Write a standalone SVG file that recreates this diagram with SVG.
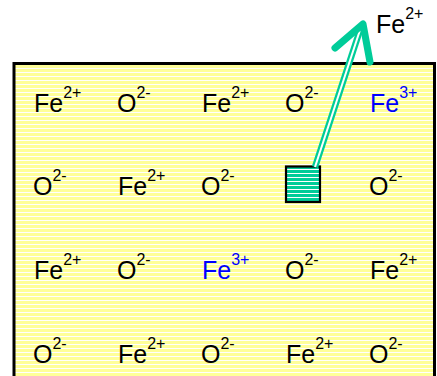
<svg xmlns="http://www.w3.org/2000/svg" width="437" height="376" viewBox="0 0 437 376">
<defs>
<pattern id="ystripe" patternUnits="userSpaceOnUse" x="0" y="1" width="8" height="4">
<rect width="8" height="4" fill="#FFFF99"/>
<rect y="3" width="8" height="1" fill="#FFFFFF"/>
</pattern>
<pattern id="gstripe" patternUnits="userSpaceOnUse" x="0" y="2" width="8" height="4">
<rect width="8" height="4" fill="#00CC99"/>
<rect y="3" width="8" height="1" fill="#FFFFFF"/>
</pattern>
<style>
text{font-family:"Liberation Sans",Arial,sans-serif;fill:#000}
.b{fill:#0000FF}
</style>
</defs>
<g id="crystal">
<rect x="14" y="63.5" width="420.5" height="330" fill="url(#ystripe)" stroke="#000" stroke-width="3"/>
</g>
<g id="vacancy">
<rect x="286" y="166.5" width="34" height="35.5" fill="url(#gstripe)" stroke="#000" stroke-width="2.2"/>
</g>
<g id="connectors">
<line x1="315" y1="167" x2="361" y2="27" stroke="#00CC99" stroke-width="6.5"/>
<line x1="315" y1="167" x2="361" y2="27" stroke="#FFFFFF" stroke-width="2"/>
<polyline points="335,48 363,24 370,62" fill="none" stroke="#00CC99" stroke-width="7" stroke-linecap="round" stroke-linejoin="round"/>
</g>
<g id="ion-top"><text x="376" y="33" font-size="25">Fe<tspan font-size="16" dy="-14">2+</tspan></text></g>
<g id="row1">
<text x="34" y="112" font-size="25">Fe<tspan font-size="16" dy="-14">2+</tspan></text>
<text x="117" y="112" font-size="25">O<tspan font-size="16" dy="-14">2-</tspan></text>
<text x="202" y="112" font-size="25">Fe<tspan font-size="16" dy="-14">2+</tspan></text>
<text x="285" y="112" font-size="25">O<tspan font-size="16" dy="-14">2-</tspan></text>
<text class="b" x="370" y="112" font-size="25">Fe<tspan font-size="16" dy="-14">3+</tspan></text>
</g>
<g id="row2">
<text x="33" y="195" font-size="25">O<tspan font-size="16" dy="-14">2-</tspan></text>
<text x="118" y="195" font-size="25">Fe<tspan font-size="16" dy="-14">2+</tspan></text>
<text x="201" y="195" font-size="25">O<tspan font-size="16" dy="-14">2-</tspan></text>
<text x="369" y="195" font-size="25">O<tspan font-size="16" dy="-14">2-</tspan></text>
</g>
<g id="row3">
<text x="34" y="279" font-size="25">Fe<tspan font-size="16" dy="-14">2+</tspan></text>
<text x="117" y="279" font-size="25">O<tspan font-size="16" dy="-14">2-</tspan></text>
<text class="b" x="202" y="279" font-size="25">Fe<tspan font-size="16" dy="-14">3+</tspan></text>
<text x="285" y="279" font-size="25">O<tspan font-size="16" dy="-14">2-</tspan></text>
<text x="370" y="279" font-size="25">Fe<tspan font-size="16" dy="-14">2+</tspan></text>
</g>
<g id="row4">
<text x="33" y="363" font-size="25">O<tspan font-size="16" dy="-14">2-</tspan></text>
<text x="118" y="363" font-size="25">Fe<tspan font-size="16" dy="-14">2+</tspan></text>
<text x="201" y="363" font-size="25">O<tspan font-size="16" dy="-14">2-</tspan></text>
<text x="286" y="363" font-size="25">Fe<tspan font-size="16" dy="-14">2+</tspan></text>
<text x="369" y="363" font-size="25">O<tspan font-size="16" dy="-14">2-</tspan></text>
</g>
</svg>
